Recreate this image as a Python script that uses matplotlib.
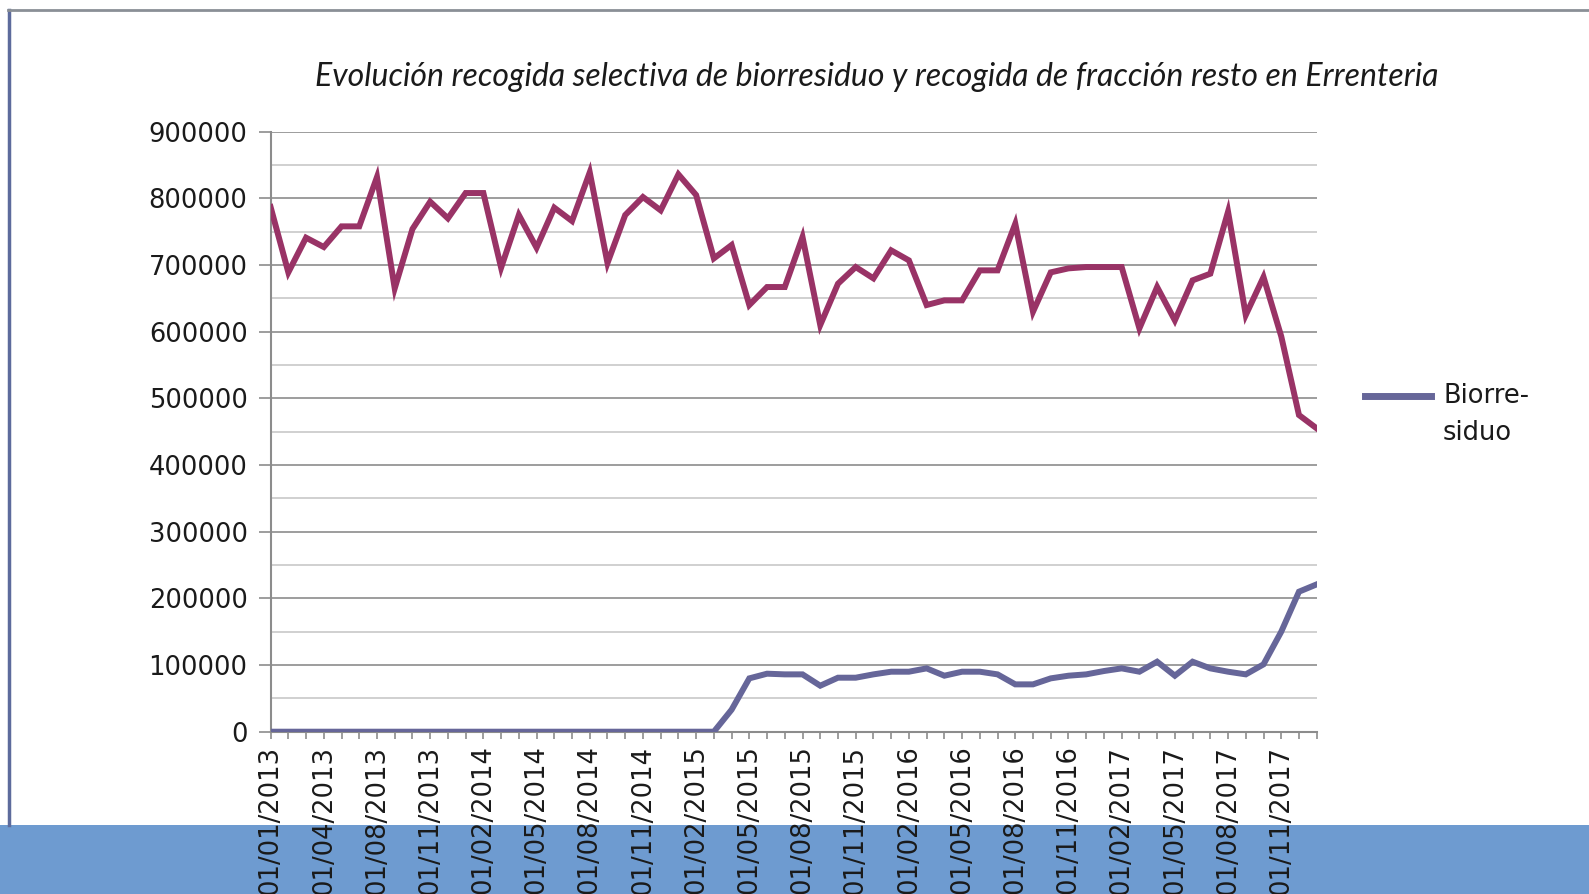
import matplotlib
matplotlib.use("Agg")
import matplotlib.pyplot as plt
from matplotlib.patches import Rectangle
from matplotlib.lines import Line2D

# monthly series (one month missing in 2013, as in the source sheet)
months = ["01/01/2013", "01/02/2013", "01/03/2013", "01/04/2013", "01/05/2013", "01/07/2013",
          "01/08/2013", "01/09/2013", "01/10/2013", "01/11/2013", "01/12/2013",
          "01/01/2014", "01/02/2014", "01/03/2014", "01/04/2014", "01/05/2014", "01/06/2014",
          "01/07/2014", "01/08/2014", "01/09/2014", "01/10/2014", "01/11/2014", "01/12/2014",
          "01/01/2015", "01/02/2015", "01/03/2015", "01/04/2015", "01/05/2015", "01/06/2015",
          "01/07/2015", "01/08/2015", "01/09/2015", "01/10/2015", "01/11/2015", "01/12/2015",
          "01/01/2016", "01/02/2016", "01/03/2016", "01/04/2016", "01/05/2016", "01/06/2016",
          "01/07/2016", "01/08/2016", "01/09/2016", "01/10/2016", "01/11/2016", "01/12/2016",
          "01/01/2017", "01/02/2017", "01/03/2017", "01/04/2017", "01/05/2017", "01/06/2017",
          "01/07/2017", "01/08/2017", "01/09/2017", "01/10/2017", "01/11/2017", "01/12/2017",
          "01/01/2018"]

resto = [787000, 689000, 741000, 727000, 758000, 758000, 832000, 665000, 754000, 795000,
         770000, 808000, 808000, 696000, 775000, 726000, 786000, 766000, 839000, 703000,
         775000, 802000, 782000, 836000, 805000, 710000, 730000, 640000, 667000, 667000,
         742000, 610000, 672000, 697000, 680000, 722000, 707000, 640000, 647000, 647000,
         692000, 692000, 762000, 630000, 689000, 695000, 697000, 697000, 697000, 605000,
         667000, 617000, 677000, 687000, 780000, 625000, 682000, 593000, 475000, 455000]

biorresiduo = [0] * 26 + [33000, 80000, 87000, 86000,
               86000, 69000, 81000, 81000, 86000, 90000, 90000, 95000, 84000, 90000,
               90000, 86000, 71000, 71000, 80000, 84000, 86000, 91000, 95000, 90000,
               105000, 84000, 105000, 95000, 90000, 86000, 101000, 150000, 210000, 221000]

W, H = 1589, 894
fig = plt.figure(figsize=(W / 100, H / 100), dpi=100)
fig.patch.set_facecolor("white")

# blue strip at the bottom and the window frame of the screenshot (behind everything)
bg = fig.add_axes([0, 0, 1, 1], zorder=-5)
bg.set_xlim(0, W)
bg.set_ylim(H, 0)
bg.axis("off")
bg.add_patch(Rectangle((0, 825), W, H - 825, facecolor="#6E9BD0", edgecolor="none"))
bg.plot([9, 9], [10, 825], color="#5D6B9C", lw=2.5)
bg.plot([8, W], [10, 10], color="#8A8F96", lw=2)

ax = fig.add_axes([270.6 / W, 1 - 731.7 / H, (1316.7 - 270.6) / W, (731.7 - 131.7) / H], zorder=1)
ax.set_facecolor("none")
x = list(range(len(months)))

ax.plot(x, resto, color="#993366", lw=4.3, solid_joinstyle="miter", zorder=3)
ax.plot(x, biorresiduo, color="#666699", lw=4.3, solid_joinstyle="miter", zorder=3)

ax.set_xlim(0, len(months) - 1)
ax.set_ylim(0, 900000)
ax.set_yticks(range(0, 900001, 100000))
ax.set_yticks(range(50000, 900000, 100000), minor=True)
ax.grid(axis="y", which="major", color="#8C8C8C", lw=1.2)
ax.grid(axis="y", which="minor", color="#C8C8C8", lw=1.2)
ax.set_axisbelow(True)

ax.set_xticks(x, minor=True)
ax.set_xticks(x[::3])
ax.set_xticklabels(months[::3], rotation=90, fontsize=18.5, family="DejaVu Sans", color="#1a1a1a")
ax.tick_params(axis="x", which="both", length=5, width=1.2, color="#8C8C8C", direction="out", pad=5)
ax.tick_params(axis="y", which="major", length=8.6, width=1.2, color="#8C8C8C", pad=8,
               labelsize=18.5, labelcolor="#1a1a1a")
ax.tick_params(axis="y", which="minor", length=0)
for lab in ax.get_yticklabels():
    lab.set_family("DejaVu Sans")

for s in ["top", "right"]:
    ax.spines[s].set_visible(False)
ax.spines["left"].set_color("#8C8C8C")
ax.spines["left"].set_linewidth(1.5)
ax.spines["bottom"].set_color("#8C8C8C")
ax.spines["bottom"].set_linewidth(1.5)

fig.text(877 / W, 1 - 77 / H,
         "Evolución recogida selectiva de biorresiduo y recogida de fracción resto en Errenteria",
         ha="center", va="center", fontsize=23, style="italic", family="Lato", color="#1a1a1a")

# legend (only the Biorresiduo entry is shown)
fig.add_artist(Line2D([1365 / W, 1431 / W], [1 - 396 / H, 1 - 396 / H], transform=fig.transFigure,
                      color="#666699", lw=5))
fig.text(1443 / W, 1 - 396 / H, "Biorre-", ha="left", va="center", fontsize=18.5,
         family="DejaVu Sans", color="#1a1a1a")
fig.text(1443 / W, 1 - 433 / H, "siduo", ha="left", va="center", fontsize=18.5,
         family="DejaVu Sans", color="#1a1a1a")

fig.savefig("out.png", dpi=100)
